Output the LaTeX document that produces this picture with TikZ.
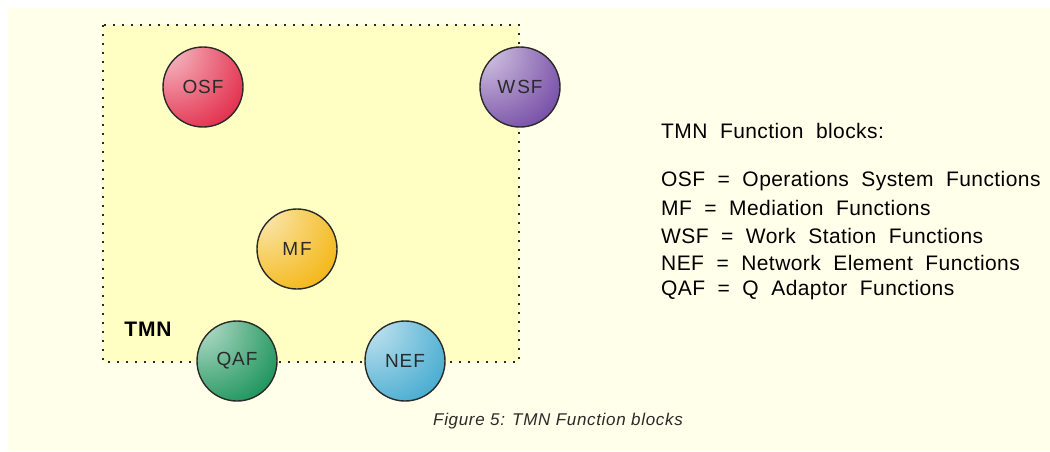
\documentclass[tikz,border=0pt]{standalone}
\usepackage{fontspec}
\setmainfont{Liberation Sans}
\newfontfamily\legendfont[WordSpace=2.0, LetterSpace=2]{Liberation Sans}
\newfontfamily\ballfont[LetterSpace=5]{Liberation Sans}
\newfontfamily\capfont[LetterSpace=4]{Liberation Sans}

\definecolor{pagecream}{HTML}{FFFFEA}
\definecolor{tmnfill}{HTML}{FFFFC4}
\definecolor{inkgray}{HTML}{2A2A2A}
\definecolor{osfcol}{HTML}{E01A3A}
\definecolor{wsfcol}{HTML}{6A3D9E}
\definecolor{mfcol}{HTML}{F2B000}
\definecolor{qafcol}{HTML}{078A4C}
\definecolor{nefcol}{HTML}{36A4CC}

% glossy ball shadings, highlight at the upper-left rim
\newcommand\makeball[2]{%
  \pgfdeclareradialshading{ball#1}{\pgfpoint{-28bp}{28bp}}{%
    color(0bp)=(white); color(6bp)=(#2!30!white);
    color(25bp)=(#2!60!white); color(52bp)=(#2); color(95bp)=(#2!80!black)}}
\makeball{osf}{osfcol}
\makeball{wsf}{wsfcol}
\makeball{mf}{mfcol}
\makeball{qaf}{qafcol}
\makeball{nef}{nefcol}

\tikzset{
  fblock/.style={circle, minimum size=80pt, inner sep=0pt, draw=inkgray,
    line width=1.4pt, shading=ball#1, text=inkgray,
    font=\ballfont\fontsize{19}{19}\selectfont},
  legend/.style={anchor=west, inner sep=0pt, text=black,
    font=\legendfont\fontsize{21}{21}\selectfont},
  tmnborder/.style={draw=inkgray, line width=2pt, dash pattern=on 2pt off 7pt},
}

\begin{document}
\begin{tikzpicture}[x=1pt, y=-1pt]
  \useasboundingbox (0,0) rectangle (1050,451);
  \fill[white] (0,0) rectangle (1050,451);
  \fill[pagecream] (8,8) rectangle (1050,451);

  % TMN boundary
  \fill[tmnfill] (103,25) rectangle (519,362);
  \draw[tmnborder] (103,25) rectangle (519,362);
  \node[font=\capfont\bfseries\fontsize{21}{21}\selectfont, text=black] (tmn) at (148,329) {TMN};

  % function blocks
  \node[fblock=osf] (osf) at (203,87)  {OSF};
  \node[fblock=wsf] (wsf) at (520,87)  {W\kern2pt SF};
  \node[fblock=mf]  (mf)  at (297,249) {M\kern2pt F};
  \node[fblock=qaf] (qaf) at (237,361) {QAF};
  \node[fblock=nef] (nef) at (405,361) {NEF};

  % legend
  \node[legend] (lh) at (661,131) {TMN Function blocks:};
  \node[legend] (l1) at (661,181) {OSF = Operations System Functions};
  \node[legend] (l2) at (661,208) {MF = Mediation Functions};
  \node[legend] (l3) at (661,236) {WSF = Work Station Functions};
  \node[legend] (l4) at (661,263) {NEF = Network Element Functions};
  \node[legend] (l5) at (661,290) {QAF = Q Adaptor Functions};

  % caption
  \node[font=\capfont\itshape\fontsize{17}{17}\selectfont, text=inkgray] (cap) at (558,421)
    {Figure 5: TMN Function blocks};
\end{tikzpicture}
\end{document}
